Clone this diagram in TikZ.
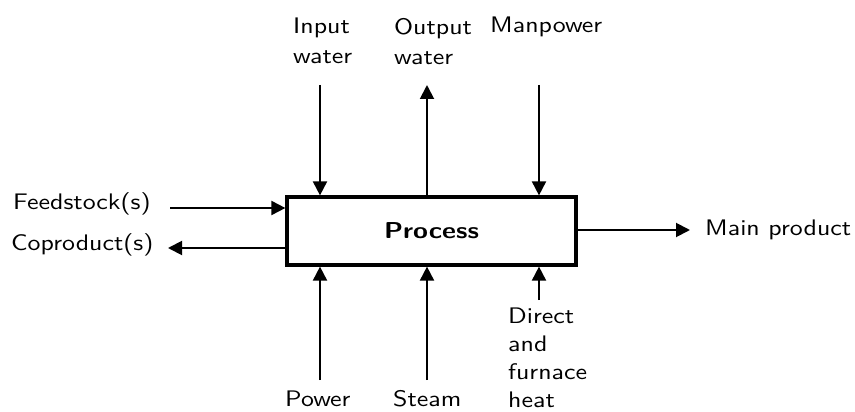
\documentclass[tikz,border=0pt]{standalone}
\usepackage{fontspec}
\newfontfamily\lblfont{lmsans10-regular.otf}[FakeStretch=1.15]
\newfontfamily\procfont{lmsans10-bold.otf}[FakeStretch=1.18]
\usetikzlibrary{arrows.meta}
\begin{document}
\begin{tikzpicture}[x=1pt,y=-1pt,
  lbl/.style={font=\lblfont\fontsize{22.5}{30}\selectfont, inner sep=0pt, align=left, anchor=base west},
  mlbl/.style={lbl, anchor=north west},
  arr/.style={line width=1.9pt, -{Triangle[length=14pt,width=14pt]}},
  procbox/.style={draw, line width=3.2pt, minimum width=289pt, minimum height=68pt, inner sep=0pt,
    font=\procfont\fontsize{23}{25}\selectfont}]
\useasboundingbox (0,0) rectangle (855,412);
\node[procbox] (proc) at (431.5,231) {Process};
% labels
\node[mlbl] (lin) at (293,18) {Input\\water};
\node[mlbl] (lout) at (394,18) {Output\\water};
\node[lbl] (lman) at (490,33) {Manpower};
\node[lbl] (lfeed) at (13,209) {Feedstock(s)};
\node[lbl] (lcop) at (11,250) {Coproduct(s)};
\node[lbl] (lmain) at (705,235) {Main product};
\node[lbl] (lpow) at (285,406) {Power};
\node[lbl] (lsteam) at (393,406) {Steam};
\node[mlbl, font=\lblfont\fontsize{22.5}{28}\selectfont] (ldir) at (508,308) {Direct\\and\\furnace\\heat};
% connector ends
\coordinate (cin) at (320,85);
\coordinate (cout) at (427,85);
\coordinate (cman) at (539,85);
\coordinate (cfeed) at (170,208);
\coordinate (ccop) at (168,248);
\coordinate (cmain) at (690,230);
\coordinate (cpow) at (320,380);
\coordinate (csteam) at (427,380);
\coordinate (cdir) at (539,300);
% connectors
\draw[arr] (cin) -- (cin |- proc.north);
\draw[arr] (cout |- proc.north) -- (cout);
\draw[arr] (cman) -- (cman |- proc.north);
\draw[arr] (cfeed) -- (cfeed -| proc.west);
\draw[arr] (ccop -| proc.west) -- (ccop);
\draw[arr] (cmain -| proc.east) -- (cmain);
\draw[arr] (cpow) -- (cpow |- proc.south);
\draw[arr] (csteam) -- (csteam |- proc.south);
\draw[arr] (cdir) -- (cdir |- proc.south);
\end{tikzpicture}
\end{document}
